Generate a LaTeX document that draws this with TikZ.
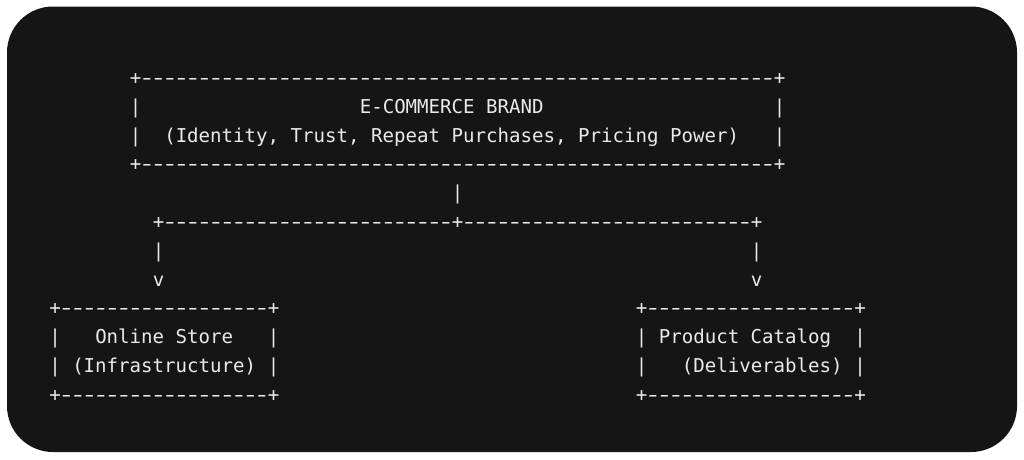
\documentclass[tikz,border=0pt]{standalone}
\usepackage{fontspec}
\newfontfamily\asciimono{DejaVu Sans Mono}
\definecolor{panel}{HTML}{151515}
\definecolor{ink}{HTML}{EAEAEA}
\newcommand\onedash{\makebox[11.5pt][c]{\scalebox{1.45}[1]{-}}}
\newcommand\dashrun[1]{\foreach \k in {1,...,#1}{\onedash}}
\tikzset{
  asc/.style={anchor=base west, inner sep=0pt, outer sep=0pt, text=ink,
    font=\asciimono\fontsize{19.1pt}{28.8pt}\selectfont},
}
% column c, row r  ->  x = 49.25 + 11.5 c , baseline y = -(84.5 + 28.8 r)
\newcommand\cx[1]{\fpeval{49.25+11.5*(#1)}pt}
\newcommand\ry[1]{\fpeval{-(84.5+28.8*(#1))}pt}
\begin{document}
\begin{tikzpicture}[x=1pt,y=1pt]
\useasboundingbox (0,0) rectangle (1024,-459);
\fill[white] (0,0) rectangle (1024,-459);
\fill[panel, rounded corners=46pt] (7,-6.5) rectangle (1017,-452);
% top box: E-COMMERCE BRAND
\node[asc] (brandtop) at (\cx{7},\ry{0}) {+\dashrun{55}+};
\node[asc] (brandl1) at (\cx{7},\ry{1}) {|};
\node[asc] (brandtitle) at (\cx{27},\ry{1}) {E-COMMERCE BRAND};
\node[asc] (brandr1) at (\cx{63},\ry{1}) {|};
\node[asc] (brandl2) at (\cx{7},\ry{2}) {|};
\node[asc] (brandsub) at (\cx{10},\ry{2}) {(Identity, Trust, Repeat Purchases, Pricing Power)};
\node[asc] (brandr2) at (\cx{63},\ry{2}) {|};
\node[asc] (brandbot) at (\cx{7},\ry{3}) {+\dashrun{55}+};
% connectors
\node[asc] (stem) at (\cx{35},\ry{4}) {|};
\node[asc] (branch) at (\cx{9},\ry{5}) {+\dashrun{25}+\dashrun{25}+};
\node[asc] (leftbar) at (\cx{9},\ry{6}) {|};
\node[asc] (rightbar) at (\cx{61},\ry{6}) {|};
\node[asc] (leftarrow) at (\cx{9},\ry{7}) {v};
\node[asc] (rightarrow) at (\cx{61},\ry{7}) {v};
% left box: Online Store
\node[asc] (storetop) at (\cx{0},\ry{8}) {+\dashrun{18}+};
\node[asc] (storel1) at (\cx{0},\ry{9}) {|};
\node[asc] (storetitle) at (\cx{4},\ry{9}) {Online Store};
\node[asc] (storer1) at (\cx{19},\ry{9}) {|};
\node[asc] (storel2) at (\cx{0},\ry{10}) {|};
\node[asc] (storesub) at (\cx{2},\ry{10}) {(Infrastructure)};
\node[asc] (storer2) at (\cx{19},\ry{10}) {|};
\node[asc] (storebot) at (\cx{0},\ry{11}) {+\dashrun{18}+};
% right box: Product Catalog
\node[asc] (cattop) at (\cx{51},\ry{8}) {+\dashrun{18}+};
\node[asc] (catl1) at (\cx{51},\ry{9}) {|};
\node[asc] (cattitle) at (\cx{53},\ry{9}) {Product Catalog};
\node[asc] (catr1) at (\cx{70},\ry{9}) {|};
\node[asc] (catl2) at (\cx{51},\ry{10}) {|};
\node[asc] (catsub) at (\cx{55},\ry{10}) {(Deliverables)};
\node[asc] (catr2) at (\cx{70},\ry{10}) {|};
\node[asc] (catbot) at (\cx{51},\ry{11}) {+\dashrun{18}+};
\end{tikzpicture}
\end{document}
